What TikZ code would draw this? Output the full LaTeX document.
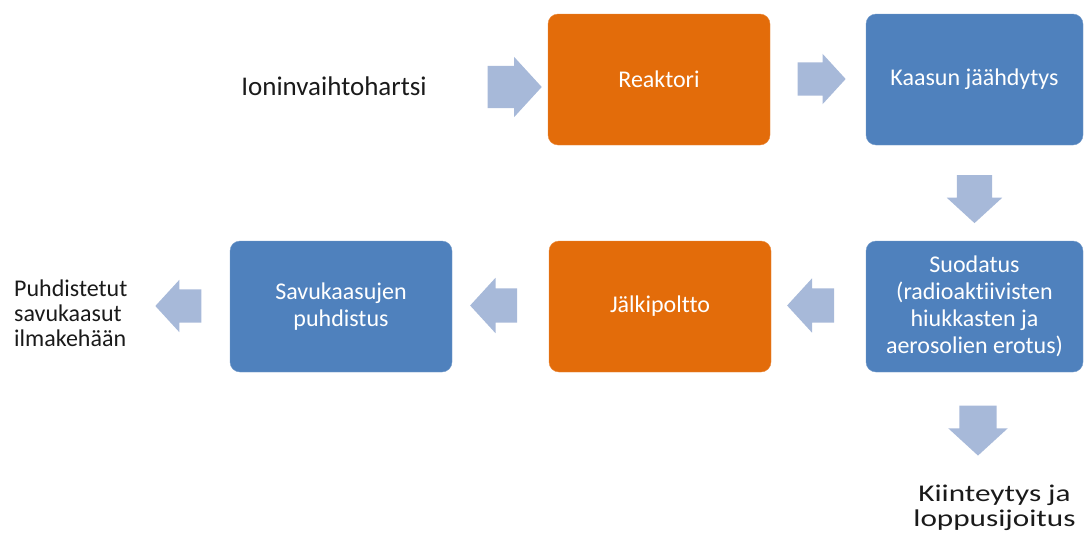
\documentclass[tikz,border=0pt]{standalone}
\usepackage{fontspec}
\setmainfont[Ligatures={NoCommon}]{Carlito}
\usetikzlibrary{shapes.arrows}
\definecolor{orangebox}{HTML}{E36C0A}
\definecolor{bluebox}{HTML}{4F81BD}
\definecolor{arrowfill}{HTML}{A7B9D9}
\definecolor{labeltext}{HTML}{1A1A1A}
\tikzset{
  procbox/.style={rounded corners=10pt, inner sep=0pt, align=center,
    text=white, font=\fontsize{24}{27}\selectfont},
  orangeproc/.style={procbox, fill=orangebox, draw=orangebox!80!white},
  blueproc/.style={procbox, fill=bluebox, draw=bluebox!80!white},
  freelabel/.style={text=labeltext, font=\fontsize{24}{25}\selectfont, inner sep=0pt},
  blockarrow/.style={single arrow, fill=arrowfill, draw=none,
    outer sep=0pt, minimum width=0pt, single arrow tip angle=95},
  harrow/.style={blockarrow, inner xsep=0pt, inner ysep=#1},
  varrow/.style={blockarrow, shape border rotate=270, inner ysep=0pt, inner xsep=#1},
}
\begin{document}
\begin{tikzpicture}[x=1pt,y=-1pt]
\useasboundingbox (0,0) rectangle (1087,533);
% process boxes
\path (548,14) rectangle (770,145) node[midway, orangeproc, minimum width=222pt, minimum height=131pt] (reak) {Reaktori};
\path (866,14) rectangle (1083,145) node[midway, blueproc, minimum width=217pt, minimum height=131pt] (kaas) {Kaasun jäähdytys};
\path (866,241) rectangle (1083,372) node[midway, blueproc, minimum width=217pt, minimum height=131pt] (suod) {Suodatus\\(radioaktiivisten\\hiukkasten ja\\aerosolien erotus)};
\path (549,241) rectangle (771,372) node[midway, orangeproc, minimum width=222pt, minimum height=131pt] (jalk) {Jälkipoltto};
\path (230,241) rectangle (452,372) node[midway, blueproc, minimum width=222pt, minimum height=131pt] (savu) {Savukaasujen\\puhdistus};
% free labels
\node[freelabel, font=\fontsize{27}{30}\selectfont] (ion) at (334,86) {Ioninvaihtohartsi};
\node[freelabel, align=left, anchor=west] (puhd) at (14,313) {Puhdistetut\\savukaasut\\ilmakehään};
\node[freelabel, align=center, xscale=1.3] (kiin) at (994.5,508) {Kiinteytys ja\\loppusijoitus};
% block arrows
\node[harrow=21pt, minimum height=54pt, single arrow head extend=9pt] (a1) at (505,87) {};
\node[harrow=16.5pt, minimum height=48pt, single arrow head extend=8.5pt] (a2) at (814,79) {};
\node[varrow=17.5pt, minimum height=48pt, single arrow head extend=10pt] (a3) at (974.5,191) {};
\node[harrow=17pt, shape border rotate=180, minimum height=47pt, single arrow head extend=10pt] (a4) at (818.5,305.5) {};
\node[harrow=17pt, shape border rotate=180, minimum height=47pt, single arrow head extend=10.5pt] (a5) at (501.5,305.5) {};
\node[harrow=16.5pt, shape border rotate=180, minimum height=46pt, single arrow head extend=9.5pt] (a6) at (186,306) {};
\node[varrow=18.5pt, minimum height=50pt, single arrow head extend=11pt] (a7) at (978,422) {};
\end{tikzpicture}
\end{document}
